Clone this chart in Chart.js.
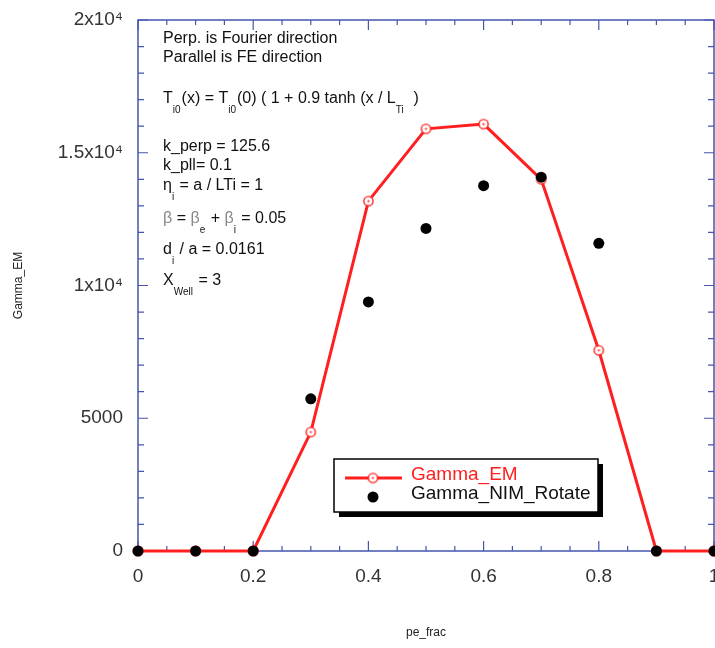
<!DOCTYPE html>
<html>
<head>
<meta charset="utf-8">
<script src="https://cdn.jsdelivr.net/npm/chart.js@4"></script>
<style>
  html, body { margin: 0; padding: 0; background: #fff; }
</style>
</head>
<body>
<canvas id="chart" width="715" height="648"></canvas>
<script>
// data
const peFrac = [0, 0.1, 0.2, 0.3, 0.4, 0.5, 0.6, 0.7, 0.8, 0.9, 1];
const gammaEM = [0, 0, 0, 4480, 13180, 15900, 16080, 14000, 7560, 0, 0];
const gammaNIM = [0, 0, 0, 5730, 9380, 12150, 13760, 14080, 11590, 0, 0];
const yTickLabels = ['0', '5000', '1x10\u2074', '1.5x10\u2074', '2x10\u2074'];
const xTickLabels = ['0', '0.2', '0.4', '0.6', '0.8', '1'];

const FONT = "'Liberation Sans', Arial, Helvetica, sans-serif";
const FRAME = '#4656b0';
const RED = '#ff1f1f';

// open circle with a dot for Gamma_EM
function makeRing() {
    const c = document.createElement('canvas');
    c.width = 13; c.height = 13;
    const g = c.getContext('2d');
    g.beginPath(); g.arc(6.5, 6.5, 4.6, 0, Math.PI * 2);
    g.fillStyle = '#fff'; g.fill();
    g.lineWidth = 1.4; g.strokeStyle = RED; g.stroke();
    g.beginPath(); g.arc(6.5, 6.5, 1.1, 0, Math.PI * 2);
    g.fillStyle = RED; g.fill();
    return c;
}
const ring = makeRing();

const noPad = () => ({ left: 0, right: 0, top: 0, bottom: 0 });

// frame and inward ticks on all four sides
const framePlugin = {
    id: 'frame',
    beforeDatasetsDraw(chart) {
        const { ctx, chartArea: a, scales } = chart;
        ctx.save();
        ctx.strokeStyle = FRAME;
        ctx.lineWidth = 1.5;
        ctx.strokeRect(a.left, a.top, a.right - a.left, a.bottom - a.top);
        ctx.lineWidth = 1.2;
        scales.x.ticks.forEach(t => {
            const px = scales.x.getPixelForValue(t.value);
            const len = t.label ? 10 : 5;
            ctx.beginPath();
            ctx.moveTo(px, a.bottom); ctx.lineTo(px, a.bottom - len);
            ctx.moveTo(px, a.top); ctx.lineTo(px, a.top + len);
            ctx.stroke();
        });
        scales.y.ticks.forEach(t => {
            const py = scales.y.getPixelForValue(t.value);
            const len = t.label ? 10 : 6;
            ctx.beginPath();
            ctx.moveTo(a.left, py); ctx.lineTo(a.left + len, py);
            ctx.moveTo(a.right, py); ctx.lineTo(a.right - len, py);
            ctx.stroke();
        });
        ctx.restore();
    }
};

// text segments: [text, isSub, colour]
function drawRich(ctx, x, y, parts) {
    parts.forEach(([txt, sub, col]) => {
        ctx.font = (sub ? '10px ' : '16px ') + FONT;
        ctx.fillStyle = col || '#111';
        ctx.fillText(txt, x, sub ? y + 11 : y);
        x += ctx.measureText(txt).width + (sub ? 1 : 0);
    });
}

const notesPlugin = {
    id: 'notes',
    afterDraw(chart) {
        const ctx = chart.ctx;
        ctx.save();
        ctx.textBaseline = 'middle';
        ctx.textAlign = 'left';
        const x = 163;
        drawRich(ctx, x, 39, [['Perp. is Fourier direction']]);
        drawRich(ctx, x, 58, [['Parallel is FE direction']]);
        drawRich(ctx, x, 99, [['T'], ['i0', 1], ['(x) = T'], ['i0', 1], ['(0) ( 1 + 0.9 tanh (x / L'], ['Ti', 1], ['  )']]);
        drawRich(ctx, x, 147, [['k_perp = 125.6']]);
        drawRich(ctx, x, 166, [['k_pll= 0.1']]);
        drawRich(ctx, x, 186, [['\u03b7'], ['i', 1], [' = a / LTi = 1']]);
        drawRich(ctx, x, 219, [['\u03b2', 0, '#888'], [' = '], ['\u03b2', 0, '#888'], ['e', 1], [' + '], ['\u03b2', 0, '#888'], ['i', 1], [' = 0.05']]);
        drawRich(ctx, x, 250, [['d'], ['i', 1], [' / a = 0.0161']]);
        drawRich(ctx, x, 281, [['X'], ['Well', 1], [' = 3']]);

        // boxed legend with drop shadow
        const ds = chart.data.datasets;
        const bx = 334, by = 459, bw = 264, bh = 53;
        ctx.fillStyle = '#000';
        ctx.fillRect(bx + 5, by + 5, bw, bh);
        ctx.fillStyle = '#fff';
        ctx.fillRect(bx, by, bw, bh);
        ctx.lineWidth = 1.5;
        ctx.strokeStyle = '#000';
        ctx.strokeRect(bx, by, bw, bh);

        ctx.strokeStyle = ds[0].borderColor;
        ctx.lineWidth = 3;
        ctx.beginPath(); ctx.moveTo(345, 478); ctx.lineTo(402, 478); ctx.stroke();
        ctx.drawImage(ring, 373 - 6.5, 478 - 6.5);
        ctx.fillStyle = ds[1].backgroundColor;
        ctx.beginPath(); ctx.arc(373, 497, 5.5, 0, Math.PI * 2); ctx.fill();

        ctx.font = '19px ' + FONT;
        ctx.fillStyle = ds[0].borderColor;
        ctx.fillText(ds[0].label, 411, 475);
        ctx.fillStyle = '#111';
        ctx.fillText(ds[1].label, 411, 494);
        ctx.restore();
    }
};

new Chart(document.getElementById('chart').getContext('2d'), {
    type: 'line',
    data: {
        datasets: [{
            label: 'Gamma_EM',
            data: peFrac.map((x, i) => ({ x: x, y: gammaEM[i] })),
            borderColor: RED,
            borderWidth: 3,
            pointStyle: ring,
            pointRadius: 5,
            tension: 0,
            clip: false,
            order: 2
        }, {
            label: 'Gamma_NIM_Rotate',
            data: peFrac.map((x, i) => ({ x: x, y: gammaNIM[i] })),
            showLine: false,
            backgroundColor: '#000',
            borderWidth: 0,
            pointStyle: 'circle',
            pointRadius: 5.5,
            clip: false,
            order: 1
        }]
    },
    options: {
        responsive: false,
        animation: false,
        events: [],
        layout: { autoPadding: false, padding: { top: 20, right: 1, left: 0, bottom: 0 } },
        plugins: { legend: { display: false }, tooltip: { enabled: false } },
        scales: {
            x: {
                type: 'linear',
                min: 0, max: 1,
                grid: { display: false, drawTicks: false },
                border: { display: false },
                ticks: {
                    stepSize: 0.05,
                    autoSkip: false,
                    maxRotation: 0,
                    padding: 14,
                    color: '#333',
                    font: { family: FONT, size: 19 },
                    callback: v => {
                        const k = Math.round(v / 0.2);
                        return Math.abs(v - k * 0.2) < 1e-6 ? xTickLabels[k] : '';
                    }
                },
                title: { display: true, text: 'pe_frac', color: '#222', font: { family: FONT, size: 12 }, padding: { top: 0, bottom: 8 } },
                afterFit: s => { s.height = 97; s.paddingLeft = 0; s.paddingRight = 0; s.getPadding = noPad; }
            },
            y: {
                min: 0, max: 20000,
                grid: { display: false, drawTicks: false },
                border: { display: false },
                ticks: {
                    stepSize: 1000,
                    autoSkip: false,
                    padding: 15,
                    color: '#333',
                    font: { family: FONT, size: 19 },
                    callback: v => (v % 5000 === 0 ? yTickLabels[v / 5000] : '')
                },
                title: { display: true, text: 'Gamma_EM', color: '#222', font: { family: FONT, size: 12 }, padding: { top: 11, bottom: 0 } },
                afterFit: s => { s.width = 138; s.paddingTop = 0; s.paddingBottom = 0; s.getPadding = noPad; }
            }
        }
    },
    plugins: [framePlugin, notesPlugin]
});
</script>
</body>
</html>
